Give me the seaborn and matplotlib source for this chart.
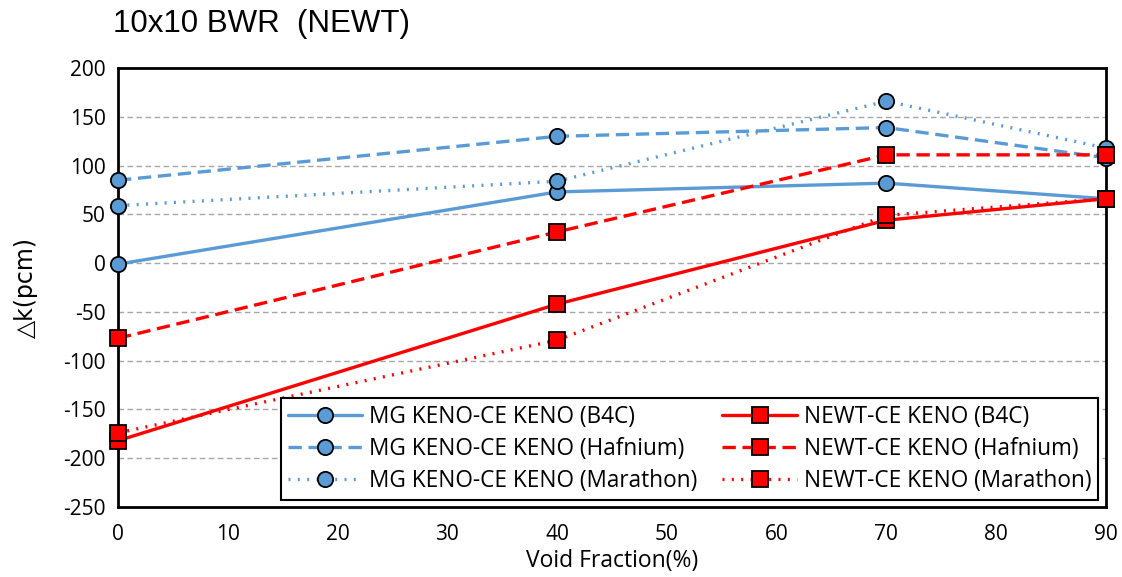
import matplotlib
matplotlib.use("Agg")
import matplotlib.pyplot as plt
import seaborn as sns
import pandas as pd

void = [0, 40, 70, 90]
mg_b4c = [-1, 73, 82, 66]
mg_hf = [85, 130, 139, 108]
mg_mar = [59, 84, 166, 118]
newt_b4c = [-182, -42, 44, 66]
newt_hf = [-77, 32, 111, 111]
newt_mar = [-174, -79, 49, 66]

labels = ["MG KENO-CE KENO (B4C)", "MG KENO-CE KENO (Hafnium)", "MG KENO-CE KENO (Marathon)",
          "NEWT-CE KENO (B4C)", "NEWT-CE KENO (Hafnium)", "NEWT-CE KENO (Marathon)"]
series = [mg_b4c, mg_hf, mg_mar, newt_b4c, newt_hf, newt_mar]
xticks = [0, 10, 20, 30, 40, 50, 60, 70, 80, 90]
yticks = [-250, -200, -150, -100, -50, 0, 50, 100, 150, 200]

sns.set_theme(style="white")
plt.rcParams['font.family'] = ['Open Sans', 'DejaVu Sans']
plt.rcParams['axes.unicode_minus'] = False
plt.rcParams['text.color'] = 'black'
plt.rcParams['axes.labelcolor'] = 'black'
plt.rcParams['xtick.color'] = 'black'
plt.rcParams['ytick.color'] = 'black'

fig = plt.figure(figsize=(11.22, 5.77), dpi=100)
ax = fig.add_axes([0.1052, 0.1213, 0.8805, 0.7608])

blue = "#5b9bd5"
red = "#ff0000"
styles = [
    (blue, "-", "o"), (blue, (0, (4, 2)), "o"), (blue, (0, (0.6, 2.2)), "o"),
    (red, "-", "s"), (red, (0, (4, 2)), "s"), (red, (0, (0.6, 2.2)), "s"),
]

for lab, vals, (c, ls, m) in zip(labels, series, styles):
    df = pd.DataFrame({"x": void, "y": vals})
    sns.lineplot(data=df, x="x", y="y", ax=ax, color=c, linestyle=ls, linewidth=2.4,
                 marker=m, markersize=11, markerfacecolor=c, markeredgecolor="black",
                 markeredgewidth=1.3, label=lab, clip_on=False, zorder=3)

ax.set_xlim(0, 90)
ax.set_ylim(-250, 200)
ax.set_xticks(xticks)
ax.set_yticks(yticks)
ax.tick_params(axis="x", length=0, labelsize=15, pad=12)
ax.tick_params(axis="y", length=0, labelsize=15, pad=9)
for yv in yticks[1:-1]:
    ax.axhline(yv, color="#a6a6a6", linestyle=(0, (4, 2.5)), linewidth=1.0, zorder=1)
for sp in ax.spines.values():
    sp.set_color("black")
    sp.set_linewidth(2)

ax.set_xlabel("Void Fraction(%)", fontsize=16.5, labelpad=3)
ax.set_ylabel("△k(pcm)", fontsize=17, labelpad=18, family=['DejaVu Sans'])

handles, labs = ax.get_legend_handles_labels()
leg = ax.legend(handles, labs, ncol=2, loc="lower right", bbox_to_anchor=(0.992, 0.016),
                borderaxespad=0, fontsize=16.3, frameon=True, fancybox=False, edgecolor="black",
                framealpha=1, handlelength=3.3, handletextpad=0.3, borderpad=0.3,
                labelspacing=0.36, columnspacing=1.1)
leg.get_frame().set_linewidth(1.5)

fig.text(0.101, 0.958, "10x10 BWR  (NEWT)", fontsize=22.5, family=['Liberation Sans'], va="center", ha="left")

fig.savefig("out.png", dpi=100)
